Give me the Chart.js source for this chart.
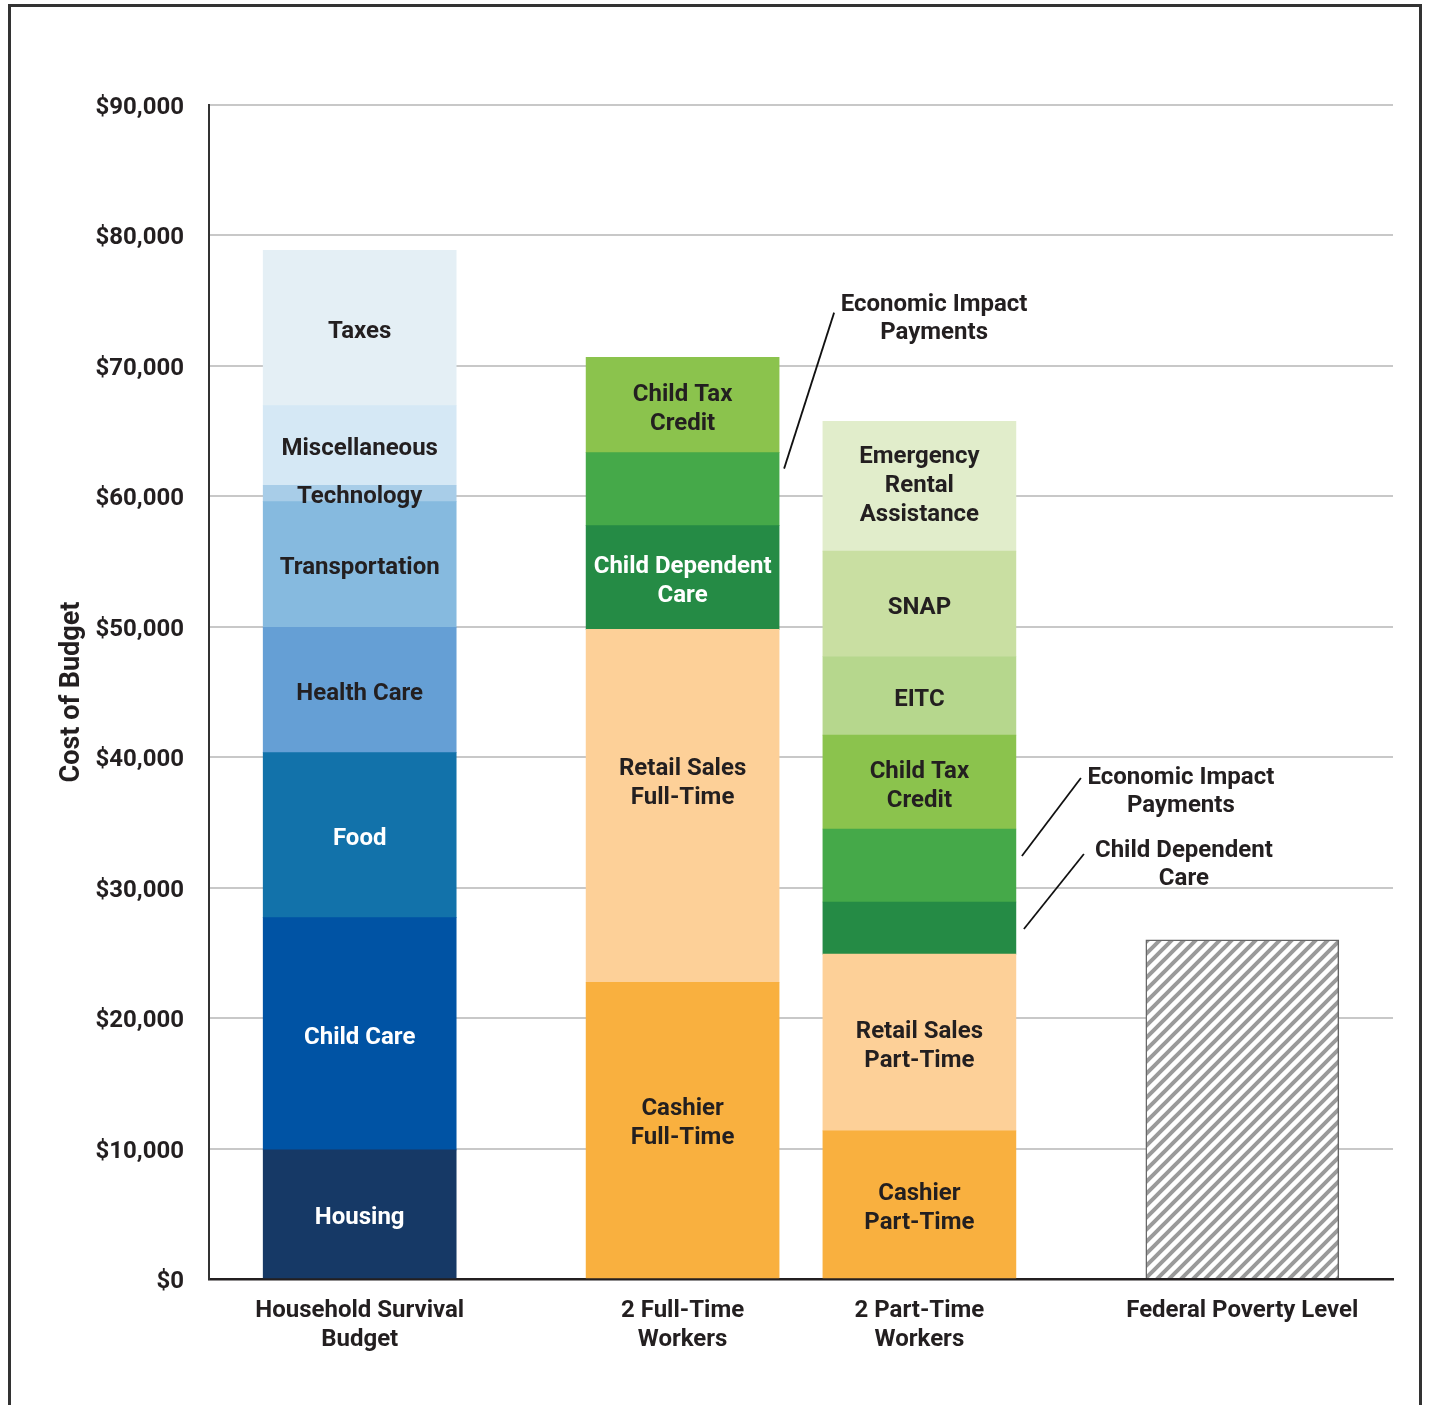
<!DOCTYPE html>
<html lang="en">
<head>
<meta charset="UTF-8">
<title>Household Survival Budget vs. Earnings and Assistance</title>
<script src="https://cdn.jsdelivr.net/npm/chart.js@4"></script>
<style>
  * { margin: 0; padding: 0; box-sizing: border-box; }
  html, body { width: 1430px; height: 1405px; overflow: hidden; background: #fff; }
  .frame { position: absolute; left: 8px; top: 4px; width: 1414px; height: 1500px; border: 3px solid #333; }
  .wrap { position: absolute; left: 0; top: 0; width: 1430px; height: 1405px; }
</style>
</head>
<body>
<div class="frame"></div>
<div class="wrap"><canvas id="chart"></canvas></div>
<script>
// x axis categories
const categories = [['Household Survival', 'Budget'], ['2 Full-Time', 'Workers'], ['2 Part-Time', 'Workers'], 'Federal Poverty Level'];

// Household Survival Budget (bottom to top)
const budgetItems = ['Housing', 'Child Care', 'Food', 'Health Care', 'Transportation', 'Technology', 'Miscellaneous', 'Taxes'];
const budgetValues = [9900, 17800, 12650, 9600, 9650, 1250, 6100, 11900];
const budgetText = [['Housing'], ['Child Care'], ['Food'], ['Health Care'], ['Transportation'], ['Technology'], ['Miscellaneous'], ['Taxes']];

// 2 Full-Time Workers
const fullTimeItems = ['Cashier Full-Time', 'Retail Sales Full-Time', 'Child Dependent Care', 'Economic Impact Payments', 'Child Tax Credit'];
const fullTimeValues = [22750, 27050, 7950, 5600, 7300];
const fullTimeText = [['Cashier', 'Full-Time'], ['Retail Sales', 'Full-Time'], ['Child Dependent', 'Care'], null, ['Child Tax', 'Credit']];

// 2 Part-Time Workers
const partTimeItems = ['Cashier Part-Time', 'Retail Sales Part-Time', 'Child Dependent Care', 'Economic Impact Payments', 'Child Tax Credit', 'EITC', 'SNAP', 'Emergency Rental Assistance'];
const partTimeValues = [11350, 13550, 4000, 5600, 7200, 6000, 8100, 9950];
const partTimeText = [['Cashier', 'Part-Time'], ['Retail Sales', 'Part-Time'], null, null, ['Child Tax', 'Credit'], ['EITC'], ['SNAP'], ['Emergency', 'Rental', 'Assistance']];

// Federal Poverty Level
const povertyItems = ['Federal Poverty Level'];
const povertyValues = [26000];
const povertyText = [null];

// y axis
const yMax = 90000;
const yStep = 10000;

// ---- styles ----
const colors = {
  'Housing': '#163966',
  'Child Care': '#0053A4',
  'Food': '#1272AA',
  'Health Care': '#659FD5',
  'Transportation': '#86BADF',
  'Technology': '#A8CDE8',
  'Miscellaneous': '#D5E8F5',
  'Taxes': '#E4EFF5',
  'Cashier Full-Time': '#F9B03F',
  'Cashier Part-Time': '#F9B03F',
  'Retail Sales Full-Time': '#FDD098',
  'Retail Sales Part-Time': '#FDD098',
  'Child Dependent Care': '#258B45',
  'Economic Impact Payments': '#45A949',
  'Child Tax Credit': '#8BC34D',
  'EITC': '#B6D78D',
  'SNAP': '#C9DFA2',
  'Emergency Rental Assistance': '#E1EDCB'
};
const whiteText = ['Housing', 'Child Care', 'Food', 'Child Dependent Care'];
// a few labels sit above their segment's middle in the original
const textNudge = { 'Retail Sales Full-Time': -26, 'Cashier Full-Time': -11, 'Emergency Rental Assistance': -4 };
const inkColor = '#231f20';
const fontFamily = 'Roboto, "Noto Sans", Arial, sans-serif';

// hatch pattern for the poverty level bar
function makeHatch() {
  const size = 12;
  const c = document.createElement('canvas');
  c.width = size; c.height = size;
  const g = c.getContext('2d');
  g.fillStyle = '#ffffff';
  g.fillRect(0, 0, size, size);
  g.strokeStyle = '#9a9a9a';
  g.lineWidth = 4;
  g.beginPath();
  g.moveTo(-size / 2, size / 2); g.lineTo(size / 2, -size / 2);
  g.moveTo(0, size); g.lineTo(size, 0);
  g.moveTo(size / 2, size * 1.5); g.lineTo(size * 1.5, size / 2);
  g.stroke();
  return g.createPattern(c, 'repeat');
}

// layout: bars sit on a fine, evenly spaced slot grid
const slotCount = 56;
const slots = [7, 22, 33, 48];
const labels = Array(slotCount).fill('');
categories.forEach((c, i) => { labels[slots[i]] = c; });

const groups = [
  { items: budgetItems, values: budgetValues, text: budgetText },
  { items: fullTimeItems, values: fullTimeValues, text: fullTimeText },
  { items: partTimeItems, values: partTimeValues, text: partTimeText },
  { items: povertyItems, values: povertyValues, text: povertyText }
];

const hatch = makeHatch();
const datasets = [];
const segIndex = [];
groups.forEach((grp, g) => {
  segIndex[g] = {};
  grp.items.forEach((item, s) => {
    const data = Array(slotCount).fill(null);
    data[slots[g]] = grp.values[s];
    const isPoverty = g === 3;
    segIndex[g][item] = datasets.length;
    datasets.push({
      label: item,
      data: data,
      backgroundColor: isPoverty ? hatch : colors[item],
      borderColor: isPoverty ? '#666666' : 'rgba(0,0,0,0)',
      borderWidth: isPoverty ? 1.5 : 0,
      barThickness: 193,
      segText: grp.text[s],
      nudge: textNudge[item] || 0,
      textColor: whiteText.includes(item) ? '#ffffff' : inkColor,
      slot: slots[g]
    });
  });
});

// callouts with leader lines (offsets in px from the segment's top-right corner)
const callouts = [
  { group: 1, item: 'Economic Impact Payments', text: ['Economic Impact', 'Payments'], from: [5, 16], to: [50, -156], label: [150, -165] },
  { group: 2, item: 'Economic Impact Payments', text: ['Economic Impact', 'Payments'], from: [6, 27], to: [59, -78], label: [159, -79] },
  { group: 2, item: 'Child Dependent Care', text: ['Child Dependent', 'Care'], from: [8, 27], to: [60, -75], label: [160, -79] }
];

const segmentLabels = {
  id: 'segmentLabels',
  afterDatasetsDraw(chart) {
    const ctx = chart.ctx;
    ctx.save();
    ctx.font = 'bold 24px ' + fontFamily;
    ctx.textAlign = 'center';
    ctx.textBaseline = 'middle';
    const lh = 29;
    chart.data.datasets.forEach((ds, i) => {
      if (!ds.segText) return;
      const el = chart.getDatasetMeta(i).data[ds.slot];
      if (!el) return;
      const cy = (el.y + el.base) / 2 + 4 + ds.nudge;
      const n = ds.segText.length;
      ctx.fillStyle = ds.textColor;
      ds.segText.forEach((line, k) => {
        ctx.fillText(line, el.x, cy + (k - (n - 1) / 2) * lh);
      });
    });

    // callouts
    ctx.strokeStyle = '#111';
    ctx.lineWidth = 1.8;
    ctx.fillStyle = inkColor;
    callouts.forEach(co => {
      const idx = segIndex[co.group][co.item];
      const el = chart.getDatasetMeta(idx).data[slots[co.group]];
      const x0 = el.x + el.width / 2 + co.from[0];
      const y0 = el.y + co.from[1];
      ctx.beginPath();
      ctx.moveTo(x0, y0);
      ctx.lineTo(x0 + co.to[0], y0 + co.to[1]);
      ctx.stroke();
      co.text.forEach((line, k) => {
        ctx.fillText(line, x0 + co.label[0], y0 + co.label[1] + 1 + k * 28);
      });
    });
    ctx.restore();
  }
};

new Chart(document.getElementById('chart'), {
  type: 'bar',
  data: { labels: labels, datasets: datasets },
  plugins: [segmentLabels],
  options: {
    responsive: true,
    maintainAspectRatio: false,
    animation: false,
    devicePixelRatio: 1,
    layout: { padding: { top: 105, right: 37, bottom: 0, left: 0 } },
    plugins: {
      legend: { display: false },
      tooltip: { enabled: false }
    },
    scales: {
      x: {
        stacked: true,
        offset: false,
        grid: { display: false, drawTicks: false },
        border: { display: true, color: inkColor, width: 2.5 },
        ticks: {
          autoSkip: false,
          maxRotation: 0,
          minRotation: 0,
          padding: 18,
          color: inkColor,
          font: { family: fontFamily, size: 24, weight: 'bold', lineHeight: 1.2 }
        },
        afterFit(scale) { scale.height = 126; }
      },
      y: {
        stacked: true,
        min: 0,
        max: yMax,
        grid: {
          drawTicks: false,
          lineWidth: 2,
          color: c => (c.tick && c.tick.value === 0) ? 'rgba(0,0,0,0)' : '#c8c8c8'
        },
        border: { display: true, color: '#333333', width: 2 },
        ticks: {
          stepSize: yStep,
          padding: 25,
          labelOffset: 3,
          color: inkColor,
          font: { family: fontFamily, size: 24, weight: 'bold' },
          callback: v => '$' + Number(v).toLocaleString('en-US')
        },
        title: {
          display: true,
          text: 'Cost of Budget',
          color: inkColor,
          padding: { top: 56, bottom: 0 },
          font: { family: fontFamily, size: 27, weight: 'bold' }
        },
        afterFit(scale) { scale.width = 209; }
      }
    }
  }
});
</script>
</body>
</html>
